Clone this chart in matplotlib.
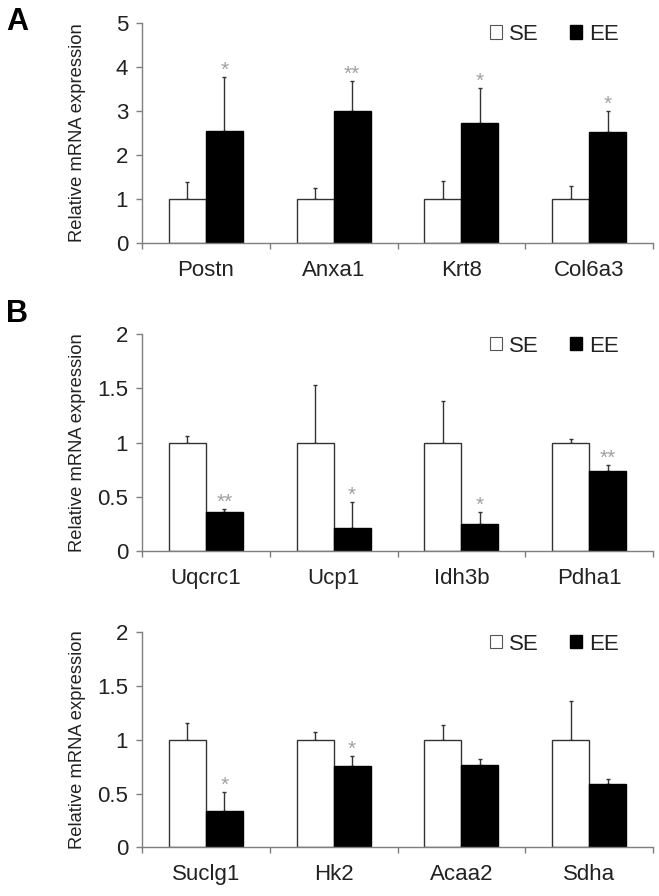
import matplotlib
matplotlib.use("Agg")
import matplotlib.pyplot as plt
from matplotlib.patches import Patch
from matplotlib.ticker import FuncFormatter, FixedLocator

plt.rcParams['font.family'] = ['Liberation Sans', 'DejaVu Sans']

# ---------------------------------------------------------------------------
# Data
# ---------------------------------------------------------------------------
genes_a = ["Postn", "Anxa1", "Krt8", "Col6a3"]
se_a = [1.0, 1.0, 1.0, 1.0]
se_a_err = [0.39, 0.25, 0.41, 0.30]
ee_a = [2.55, 2.99, 2.73, 2.51]
ee_a_err = [1.22, 0.68, 0.79, 0.49]
stars_a = ["*", "**", "*", "*"]

genes_b1 = ["Uqcrc1", "Ucp1", "Idh3b", "Pdha1"]
se_b1 = [1.0, 1.0, 1.0, 1.0]
se_b1_err = [0.06, 0.53, 0.385, 0.03]
ee_b1 = [0.36, 0.21, 0.25, 0.74]
ee_b1_err = [0.03, 0.24, 0.11, 0.05]
stars_b1 = ["**", "*", "*", "**"]

genes_b2 = ["Suclg1", "Hk2", "Acaa2", "Sdha"]
se_b2 = [1.0, 1.0, 1.0, 1.0]
se_b2_err = [0.16, 0.07, 0.14, 0.36]
ee_b2 = [0.34, 0.76, 0.77, 0.586]
ee_b2_err = [0.17, 0.09, 0.05, 0.05]
stars_b2 = ["*", "*", "", ""]

W, H = 659, 896
AXIS_COLOR = "#7f7f7f"
TEXT_COLOR = "#222222"
BAR_W = 0.29
FS = 16


def px_axes(left, right, top, bottom):
    return [left / W, 1 - bottom / H, (right - left) / W, (bottom - top) / H]


def draw_panel(ax, genes, se, se_err, ee, ee_err, stars, ymax, yticks):
    x = list(range(len(genes)))
    x_se = [i - BAR_W / 2 for i in x]
    x_ee = [i + BAR_W / 2 for i in x]

    ax.bar(x_se, se, width=BAR_W, color="white", edgecolor="#333333",
           linewidth=1.0, zorder=2)
    ax.bar(x_ee, ee, width=BAR_W, color="black", edgecolor="black",
           linewidth=1.0, zorder=2)
    ax.errorbar(x_se, se, yerr=[[0] * len(se), se_err], fmt="none",
                ecolor="#333333", elinewidth=1.0, capsize=1.2, zorder=1)
    ax.errorbar(x_ee, ee, yerr=[[0] * len(ee), ee_err], fmt="none",
                ecolor="#333333", elinewidth=1.0, capsize=1.2, zorder=1)

    for xi, v, e, s in zip(x_ee, ee, ee_err, stars):
        if s:
            ax.annotate(s, (xi, v + e), xytext=(0, -2), textcoords="offset points",
                        ha="center", va="bottom", fontsize=15, color="#a0a0a0")

    ax.set_xlim(-0.5, len(genes) - 0.5)
    ax.set_ylim(0, ymax)
    ax.yaxis.set_major_locator(FixedLocator(yticks))
    ax.yaxis.set_major_formatter(FuncFormatter(lambda v, p: f"{v:g}"))
    ax.set_xticks(x)
    ax.set_xticklabels(genes)
    ax.set_xticks([i - 0.5 for i in range(len(genes) + 1)], minor=True)

    for side in ("top", "right"):
        ax.spines[side].set_visible(False)
    for side in ("left", "bottom"):
        ax.spines[side].set_color(AXIS_COLOR)
        ax.spines[side].set_linewidth(1.0)

    ax.tick_params(axis="x", which="major", length=0, pad=12,
                   labelsize=FS, labelcolor=TEXT_COLOR)
    ax.tick_params(axis="x", which="minor", length=4, width=1.0,
                   color=AXIS_COLOR, direction="out")
    ax.tick_params(axis="y", length=4, width=1.0, color=AXIS_COLOR,
                   direction="out", pad=6, labelsize=FS, labelcolor=TEXT_COLOR)

    ax.set_ylabel("Relative mRNA expression", fontsize=13.2, color=TEXT_COLOR)
    ax.yaxis.set_label_coords(-0.11, 0.5)

    handles = [Patch(facecolor="white", edgecolor="#555555", linewidth=0.8),
               Patch(facecolor="black", edgecolor="black")]
    ax.legend(handles, ["SE", "EE"], ncol=2, frameon=False, fontsize=FS,
              handlelength=0.55, handleheight=0.55, handletextpad=0.3,
              columnspacing=1.4, loc="upper right", bbox_to_anchor=(0.95, 1.035),
              labelcolor=TEXT_COLOR, borderaxespad=0.0)


fig = plt.figure(figsize=(W / 100, H / 100), dpi=100)

ax_a = fig.add_axes(px_axes(142, 653, 22.7, 243))
draw_panel(ax_a, genes_a, se_a, se_a_err, ee_a, ee_a_err, stars_a, 5, [0, 1, 2, 3, 4, 5])

ax_b1 = fig.add_axes(px_axes(142, 653, 334.3, 551))
draw_panel(ax_b1, genes_b1, se_b1, se_b1_err, ee_b1, ee_b1_err, stars_b1, 2,
           [0, 0.5, 1, 1.5, 2])

ax_b2 = fig.add_axes(px_axes(142, 653, 632.3, 847.3))
draw_panel(ax_b2, genes_b2, se_b2, se_b2_err, ee_b2, ee_b2_err, stars_b2, 2,
           [0, 0.5, 1, 1.5, 2])

fig.text(6 / W, 1 - 7 / H, "A", fontsize=22, fontweight="bold", va="top", ha="left")
fig.text(6 / W, 1 - 299 / H, "B", fontsize=22, fontweight="bold", va="top", ha="left")

fig.savefig("out.png", dpi=100)
